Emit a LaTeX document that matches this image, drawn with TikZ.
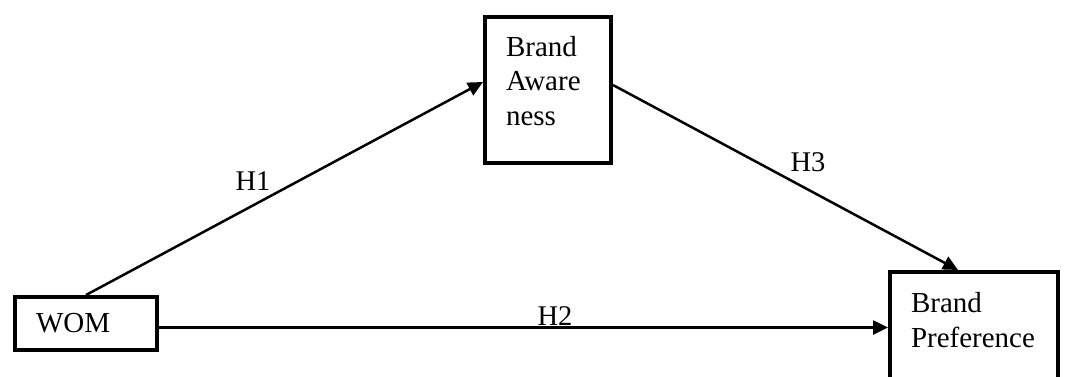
\documentclass[tikz,border=0pt]{standalone}
\usepackage{fontspec}
\setmainfont{Liberation Serif}
\usetikzlibrary{arrows.meta}

\tikzset{
  varbox/.style={draw, line width=4pt, rectangle, align=left, inner xsep=21pt,
    font=\fontsize{29}{34.5}\selectfont},
  hyparrow/.style={line width=2.5pt, -{Triangle[length=15pt,width=14pt]}},
  hyplabel/.style={font=\fontsize{28.5}{30}\selectfont}
}

\begin{document}
\begin{tikzpicture}[x=1pt, y=-1pt]
  \useasboundingbox (0,0) rectangle (1065,376);
  \node[varbox, minimum width=142pt, minimum height=53pt, text width=100pt] (wom) at (86,323.5) {WOM};
  \node[varbox, minimum width=126pt, minimum height=146pt, text width=84pt, text depth=88pt] (awareness) at (548,90) {Brand\\Aware\\ness};
  \node[varbox, minimum width=168pt, minimum height=108pt, text width=126pt, text depth=47pt] (preference) at (974,326) {Brand\\Preference};

  \draw[hyparrow] (wom.north) -- ([yshift=8pt]awareness.west);
  \draw[hyparrow] ([yshift=-4pt]wom.east) -- ([yshift=-4pt]wom.east -| preference.west);
  \draw[hyparrow] ([yshift=5pt]awareness.east) -- ([xshift=-16pt]preference.north);

  \node[hyplabel] (h1) at (253,181) {H1};
  \node[hyplabel] (h2) at (555,316) {H2};
  \node[hyplabel] (h3) at (808,162) {H3};
\end{tikzpicture}
\end{document}
